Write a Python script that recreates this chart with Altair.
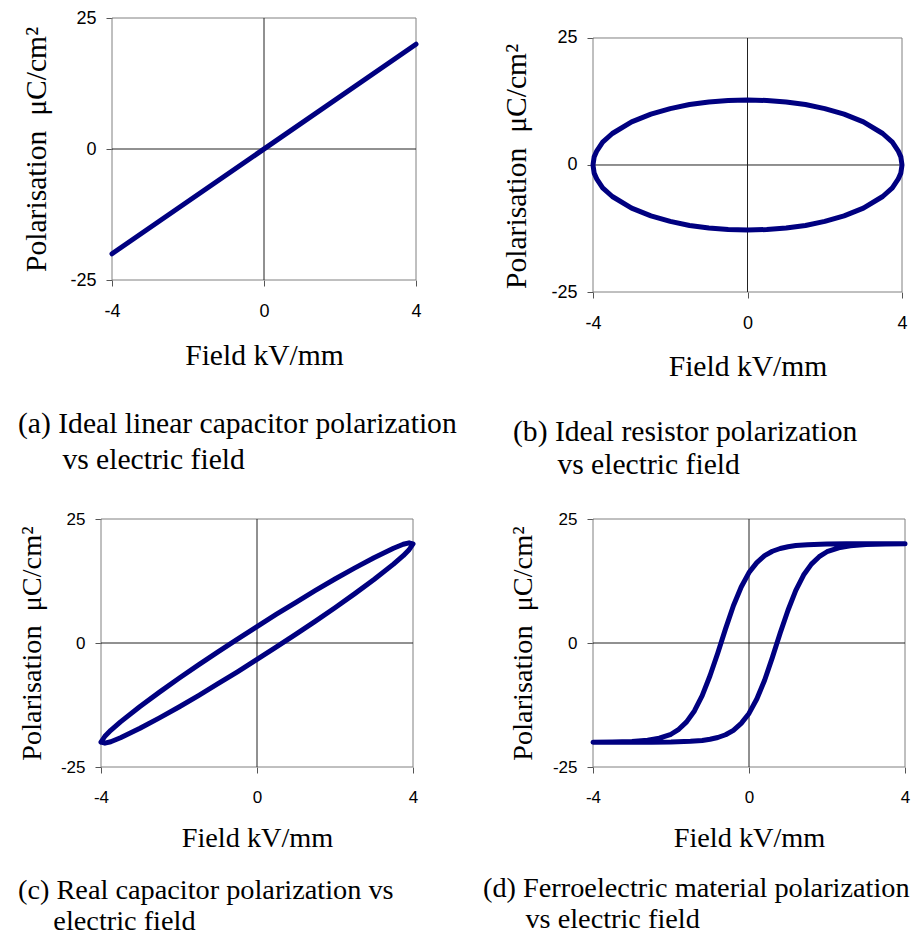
import altair as alt
import pandas as pd

# ---------------- data ----------------
X_TICKS = [-4, 0, 4]
Y_TICKS = [-25, 0, 25]

# (a) ideal linear capacitor
a_x = [-4, 4]
a_y = [-20, 20]

# (b) ideal resistor: closed ellipse
b_x = [-4, -3.97, -3.9, -3.75, -3.5, -3, -2.5, -2, -1.5, -1, -0.5, 0, 0.5, 1, 1.5, 2, 2.5, 3, 3.5, 3.75, 3.9, 3.97, 4,
       3.97, 3.9, 3.75, 3.5, 3, 2.5, 2, 1.5, 1, 0.5, 0, -0.5, -1, -1.5, -2, -2.5, -3, -3.5, -3.75, -3.9, -3.97, -4]
b_y = [0, 1.6, 2.8, 4.5, 6.2, 8.5, 10.0, 11.1, 11.9, 12.4, 12.7, 12.8, 12.7, 12.4, 11.9, 11.1, 10.0, 8.5, 6.2, 4.5, 2.8, 1.6, 0,
       -1.6, -2.8, -4.5, -6.2, -8.5, -10.0, -11.1, -11.9, -12.4, -12.7, -12.8, -12.7, -12.4, -11.9, -11.1, -10.0, -8.5, -6.2, -4.5, -2.8, -1.6, 0]

# (c) real capacitor: thin tilted loop
c_x = [-4, -3.9, -3.75, -3.5, -3, -2.5, -2, -1.5, -1, -0.5, 0, 0.5, 1, 1.5, 2, 2.5, 3, 3.5, 3.75, 3.9, 4,
       3.9, 3.75, 3.5, 3, 2.5, 2, 1.5, 1, 0.5, 0, -0.5, -1, -1.5, -2, -2.5, -3, -3.5, -3.75, -3.9, -4]
c_y = [-20, -20.2, -19.9, -19.1, -17.2, -15.1, -12.9, -10.6, -8.2, -5.8, -3.3, -0.8, 1.8, 4.4, 7.1, 9.9, 12.8, 15.9, 17.6, 18.8, 20,
       20.2, 19.9, 19.1, 17.2, 15.1, 12.9, 10.6, 8.2, 5.8, 3.3, 0.8, -1.8, -4.4, -7.1, -9.9, -12.8, -15.9, -17.6, -18.8, -20]

# (d) ferroelectric hysteresis loop: upper branch (field falling) then lower branch (field rising)
d_x = [4, 3, 2.5, 2, 1.5, 1.2, 1.0, 0.8, 0.6, 0.4, 0.2, 0, -0.2, -0.4, -0.6, -0.8, -1.0, -1.2, -1.4, -1.6, -1.8, -2.0, -2.3, -2.6, -3, -3.5, -4,
       -3, -2.5, -2, -1.5, -1.2, -1.0, -0.8, -0.6, -0.4, -0.2, 0, 0.2, 0.4, 0.6, 0.8, 1.0, 1.2, 1.4, 1.6, 1.8, 2.0, 2.3, 2.6, 3, 3.5, 4]
d_y = [20, 20, 20, 19.95, 19.8, 19.65, 19.4, 19.05, 18.5, 17.6, 16.2, 14.2, 11.3, 7.5, 2.9, -2.0, -6.6, -10.6, -13.7, -15.9, -17.4, -18.4, -19.2, -19.6, -19.85, -19.95, -20,
       -20, -20, -19.95, -19.8, -19.65, -19.4, -19.05, -18.5, -17.6, -16.2, -14.2, -11.3, -7.5, -2.9, 2.0, 6.6, 10.6, 13.7, 15.9, 17.4, 18.4, 19.2, 19.6, 19.85, 19.95, 20]

# plot frame (left, right, top, bottom) and zero lines
frame_x = [-4, 4, -4, -4]
frame_y = [-25, -25, 25, -25]
frame_x2 = [-4, 4, 4, 4]
frame_y2 = [25, 25, 25, -25]
zero_x = [0, -4]
zero_y = [-25, 0]
zero_x2 = [0, 4]
zero_y2 = [25, 0]

X_TITLE = "Field kV/mm"
Y_TITLE = "Polarisation\u00a0 \u03bcC/cm\u00b2"
NB = "\u00a0"
ZW = "\u200b"

CAP_A = ["(a) Ideal linear capacitor polarization", ZW + NB * 6 + "vs electric field"]
CAP_B = ["(b) Ideal resistor polarization", ZW + NB * 6 + "vs electric field"]
CAP_C = ["(c) Real capacitor polarization vs", ZW + NB * 5 + "electric field"]
CAP_D = ["(d) Ferroelectric material polarization", ZW + NB * 6 + "vs electric field"]

NAVY = "#000080"
SERIF = "Liberation Serif"
SANS = "Liberation Sans"


def panel(xs, ys, w, h, xdom, ydom, yoff, fs_title, fs_label, ytx, yty, xtx, xty,
          caption, cap_dx, cap_offset, cap_lh):
    df = pd.DataFrame({"x": xs, "y": ys, "i": list(range(len(xs)))})
    fdf = pd.DataFrame({"x": frame_x, "y": frame_y, "x2": frame_x2, "y2": frame_y2})
    zdf = pd.DataFrame({"x": zero_x, "y": zero_y, "x2": zero_x2, "y2": zero_y2})
    xsc = alt.Scale(domain=xdom, nice=False, zero=False)
    ysc = alt.Scale(domain=ydom, nice=False, zero=False)
    xaxis = alt.Axis(values=X_TICKS, grid=False, domain=False, tickSize=6, tickColor="#555555",
                     labelFont=SANS, labelFontSize=fs_label, labelColor="black",
                     labelExpr="'' + datum.value", labelPadding=16, labelFlush=False,
                     labelOverlap=False, title=X_TITLE, titleFont=SERIF,
                     titleFontSize=fs_title, titleFontWeight="normal", titleColor="black",
                     titleX=xtx, titleY=xty, titleAlign="center", titleBaseline="alphabetic")
    yaxis = alt.Axis(values=Y_TICKS, grid=False, domain=False, tickSize=6, tickColor="#555555",
                     offset=yoff, labelFont=SANS, labelFontSize=fs_label, labelColor="black",
                     labelExpr="'' + datum.value", labelPadding=10, labelFlush=False,
                     labelOverlap=False, title=Y_TITLE, titleFont=SERIF,
                     titleFontSize=fs_title, titleFontWeight="normal", titleColor="black",
                     titleAngle=270, titleX=ytx, titleY=yty, titleAlign="center",
                     titleBaseline="alphabetic")
    X = alt.X("x:Q", scale=xsc, axis=xaxis)
    Y = alt.Y("y:Q", scale=ysc, axis=yaxis)
    frame = alt.Chart(fdf).mark_rule(color="#808080", strokeWidth=1).encode(
        x=X, y=Y, x2="x2:Q", y2="y2:Q")
    zero = alt.Chart(zdf).mark_rule(color="#222222", strokeWidth=1).encode(
        x=X, y=Y, x2="x2:Q", y2="y2:Q")
    line = alt.Chart(df).mark_line(color=NAVY, strokeWidth=5, strokeCap="round",
                                   strokeJoin="round", clip=False).encode(
        x=X, y=Y, order=alt.Order("i:Q"))
    return alt.layer(frame, zero, line).properties(
        width=w, height=h,
        view=alt.ViewBackground(stroke="transparent"),
        title=alt.TitleParams(text=caption, orient="bottom", anchor="start", frame="group",
                              align="left", baseline="top", dx=cap_dx, offset=cap_offset,
                              font=SERIF, fontSize=fs_title, fontWeight="normal",
                              color="black", lineHeight=cap_lh))


# (a): plot area starts 11 px right of the column origin
pa = panel(a_x, a_y, 315, 262, [-4.2895, 4], [-25, 25], -11, 29.6, 18,
           -67, 131, 163, 84, CAP_A, -83, 40, 36)
# (b): plot area starts 20 px below the row origin
pb = panel(b_x, b_y, 309, 274, [-4, 4], [-25, 28.937], 0, 29.6, 18,
           -68, 148, 154.5, 83, CAP_B, -80, 37, 33)
pc = panel(c_x, c_y, 312, 248, [-4, 4], [-25, 25], 0, 28.3, 17,
           -61, 124, 156, 79, CAP_C, -83, 26, 31)
pd_ = panel(d_x, d_y, 312, 248, [-4, 4], [-25, 25], 0, 28.3, 17,
            -62, 124, 156, 79, CAP_D, -110, 24, 31)

chart = alt.concat(pa, pb, pc, pd_, columns=2,
                   spacing={"row": 227, "column": 177}).properties(
    align="all", bounds="flush",
    padding={"left": 8, "top": 0, "right": 0, "bottom": 0},
    background="white",
)

chart.save("out.html", embed_options={"renderer": "svg", "actions": False})
